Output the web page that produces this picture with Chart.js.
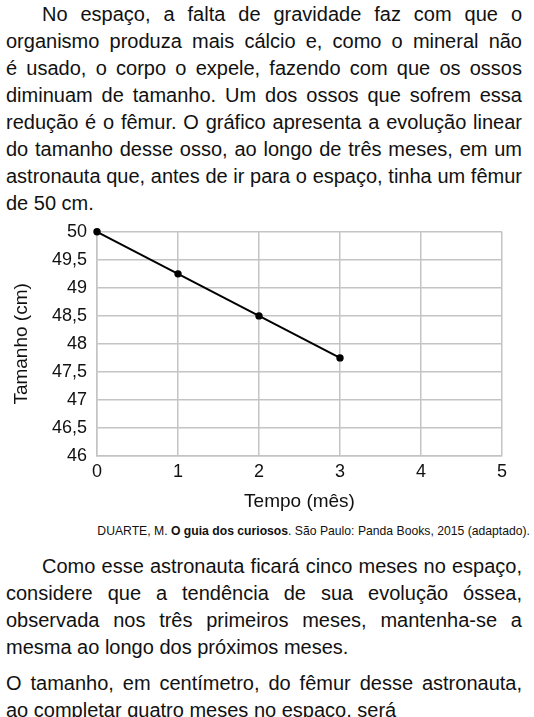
<!DOCTYPE html>
<html lang="pt">
<head>
    <meta charset="UTF-8">
    <title>Fêmur do astronauta</title>
    <script src="https://cdn.jsdelivr.net/npm/chart.js"></script>
    <style>
        html, body {
            margin: 0;
            padding: 0;
            width: 534px;
            height: 717px;
            overflow: hidden;
            background: #ffffff;
        }
        body {
            position: relative;
            font-family: 'Liberation Sans', Arial, sans-serif;
            color: #111;
        }
        .par {
            position: absolute;
            left: 6px;
            width: 516px;
            font-size: 20px;
            line-height: 27px;
            margin: 0;
        }
        /* cada linha justificada como no original */
        .par span {
            display: block;
            white-space: nowrap;
            text-align: justify;
            text-align-last: justify;
        }
        .par span.fim { text-align-last: left; }
        .par span.ind { padding-left: 36px; }
        .chart-box {
            position: absolute;
            left: 0;
            top: 211px;
            width: 534px;
            height: 303px;
        }
        .fonte {
            position: absolute;
            right: 4px;
            top: 523px;
            font-size: 12.2px;
            line-height: 16px;
            margin: 0;
        }
    </style>
</head>
<body>

<p class="par" style="top:1px">
    <span class="ind">No espaço, a falta de gravidade faz com que o</span>
    <span>organismo produza mais cálcio e, como o mineral não</span>
    <span>é usado, o corpo o expele, fazendo com que os ossos</span>
    <span>diminuam de tamanho. Um dos ossos que sofrem essa</span>
    <span>redução é o fêmur. O gráfico apresenta a evolução linear</span>
    <span>do tamanho desse osso, ao longo de três meses, em um</span>
    <span>astronauta que, antes de ir para o espaço, tinha um fêmur</span>
    <span class="fim">de 50 cm.</span>
</p>

<div class="chart-box">
    <canvas id="grafico" width="534" height="303"></canvas>
</div>

<p class="fonte">DUARTE, M. <b>O guia dos curiosos</b>. São Paulo: Panda Books, 2015 (adaptado).</p>

<p class="par" style="top:553px">
    <span class="ind">Como esse astronauta ficará cinco meses no espaço,</span>
    <span>considere que a tendência de sua evolução óssea,</span>
    <span>observada nos três primeiros meses, mantenha-se a</span>
    <span class="fim">mesma ao longo dos próximos meses.</span>
</p>

<p class="par" style="top:670px">
    <span>O tamanho, em centímetro, do fêmur desse astronauta,</span>
    <span class="fim">ao completar quatro meses no espaço, será</span>
</p>

<script>
    // dados
    const meses = [0, 1, 2, 3];
    const tamanhos = [50, 49.25, 48.5, 47.75];
    const ticksX = [0, 1, 2, 3, 4, 5];
    const ticksY = [46, 46.5, 47, 47.5, 48, 48.5, 49, 49.5, 50];

    const cinza = '#c4c4c4';

    new Chart(document.getElementById('grafico'), {
        type: 'line',
        data: {
            datasets: [{
                data: meses.map((m, i) => ({ x: m, y: tamanhos[i] })),
                borderColor: '#000',
                backgroundColor: '#000',
                borderWidth: 2,
                pointRadius: 2.7,
                pointBackgroundColor: '#000',
                fill: false,
                tension: 0,
                clip: false
            }]
        },
        options: {
            responsive: false,
            animation: false,
            layout: { padding: { top: 11, right: 32, left: 0, bottom: 0 } },
            plugins: { legend: { display: false }, tooltip: { enabled: false } },
            scales: {
                x: {
                    type: 'linear',
                    min: ticksX[0],
                    max: ticksX[ticksX.length - 1],
                    afterBuildTicks: s => { s.ticks = ticksX.map(v => ({ value: v })); },
                    afterFit: s => { s.height = 58; },
                    grid: { color: cinza, lineWidth: 1.5, drawTicks: false },
                    border: { color: cinza, width: 1.5 },
                    ticks: {
                        padding: 5,
                        color: '#111',
                        font: { family: 'Liberation Sans', size: 18 }
                    },
                    title: {
                        display: true,
                        text: 'Tempo (mês)',
                        color: '#111',
                        font: { family: 'Liberation Sans', size: 19 },
                        padding: { top: 4, bottom: 1 }
                    }
                },
                y: {
                    min: ticksY[0],
                    max: ticksY[ticksY.length - 1],
                    afterBuildTicks: s => { s.ticks = ticksY.map(v => ({ value: v })); },
                    afterFit: s => { s.width = 97; },
                    grid: { color: cinza, lineWidth: 1.5, drawTicks: false },
                    border: { color: cinza, width: 1.5 },
                    ticks: {
                        padding: 10,
                        color: '#111',
                        font: { family: 'Liberation Sans', size: 18 },
                        callback: v => String(v).replace('.', ',')
                    },
                    title: {
                        display: true,
                        text: 'Tamanho (cm)',
                        color: '#111',
                        font: { family: 'Liberation Sans', size: 19 },
                        padding: { top: 10, bottom: 4 }
                    }
                }
            }
        }
    });
</script>

</body>
</html>
